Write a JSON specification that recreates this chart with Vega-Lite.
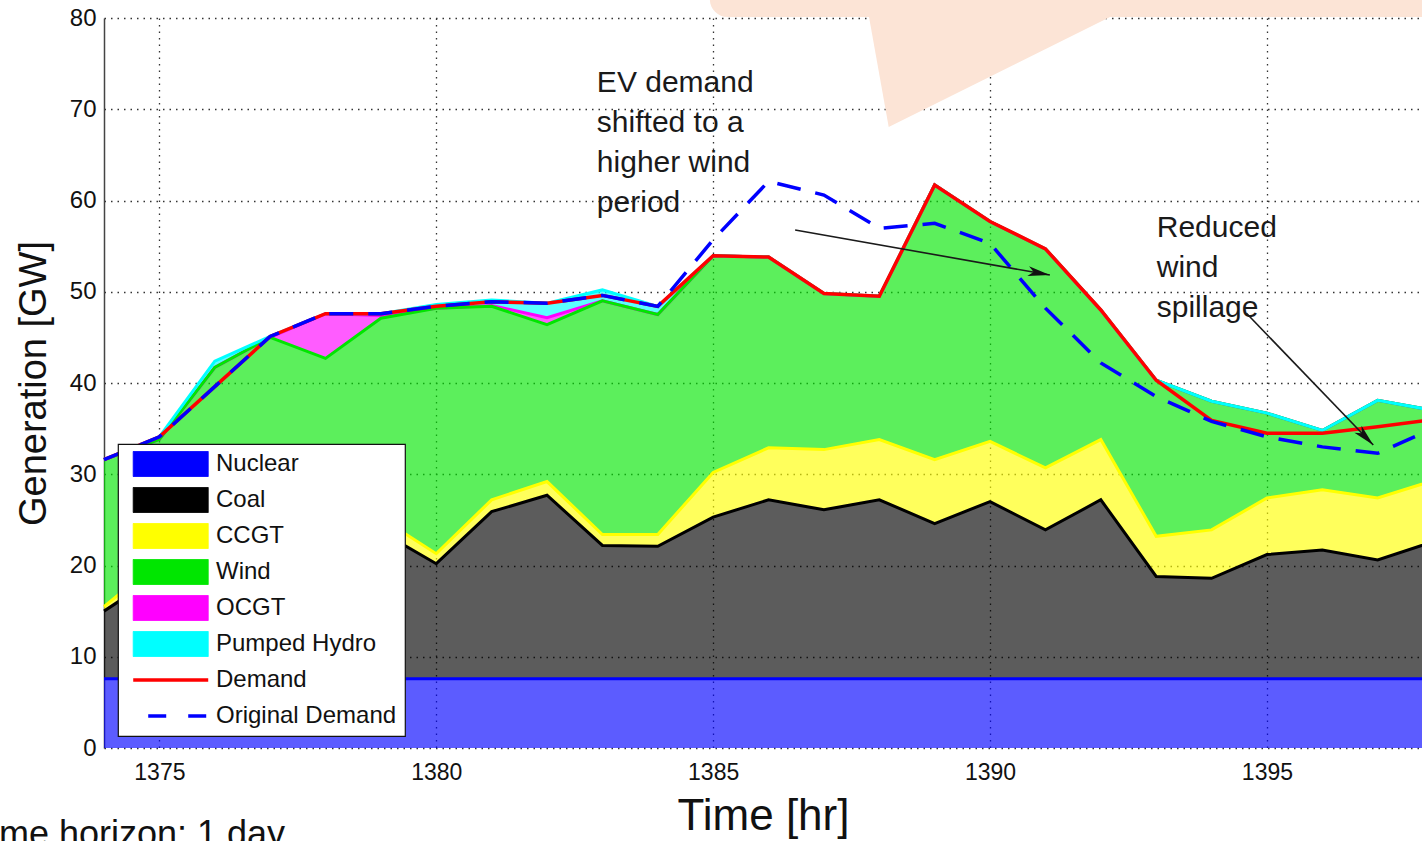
{
  "$schema": "https://vega.github.io/schema/vega-lite/v6.json",
  "width": 1318,
  "height": 730,
  "autosize": {"type": "none"},
  "padding": {"left": 104, "top": 18, "right": 0, "bottom": 93},
  "background": "white",
  "config": {
    "font": "Liberation Sans",
    "view": {"stroke": null},
    "axis": {"labelFont": "Liberation Sans", "titleFont": "Liberation Sans", "labelColor": "#111", "titleColor": "#111", "titleFontWeight": "normal"}
  },
  "datasets": {
    "gen": [
      {"h": 1374, "Nuclear": 7.6, "Coal": 7.4, "CCGT": 0.5, "Wind": 16.1, "OCGT": 0, "Pumped Hydro": 0},
      {"h": 1375, "Nuclear": 7.6, "Coal": 11.4, "CCGT": 1.5, "Wind": 13.3, "OCGT": 0, "Pumped Hydro": 0.3},
      {"h": 1376, "Nuclear": 7.6, "Coal": 13.9, "CCGT": 1.5, "Wind": 18.7, "OCGT": 0, "Pumped Hydro": 0.7},
      {"h": 1377, "Nuclear": 7.6, "Coal": 14.9, "CCGT": 1.5, "Wind": 21.0, "OCGT": 0, "Pumped Hydro": 0.1},
      {"h": 1378, "Nuclear": 7.6, "Coal": 14.4, "CCGT": 1.5, "Wind": 19.2, "OCGT": 4.9, "Pumped Hydro": 0},
      {"h": 1379, "Nuclear": 7.6, "Coal": 16.1, "CCGT": 1.5, "Wind": 21.9, "OCGT": 0.3, "Pumped Hydro": 0.2},
      {"h": 1380, "Nuclear": 7.6, "Coal": 12.6, "CCGT": 1.1, "Wind": 26.9, "OCGT": 0, "Pumped Hydro": 0.4},
      {"h": 1381, "Nuclear": 7.6, "Coal": 18.3, "CCGT": 1.3, "Wind": 21.2, "OCGT": 0.1, "Pumped Hydro": 0.6},
      {"h": 1382, "Nuclear": 7.6, "Coal": 20.1, "CCGT": 1.5, "Wind": 17.2, "OCGT": 0.75, "Pumped Hydro": 1.6},
      {"h": 1383, "Nuclear": 7.6, "Coal": 14.6, "CCGT": 1.2, "Wind": 25.6, "OCGT": 0, "Pumped Hydro": 1.2},
      {"h": 1384, "Nuclear": 7.6, "Coal": 14.5, "CCGT": 1.3, "Wind": 24.1, "OCGT": 0, "Pumped Hydro": 0.9},
      {"h": 1385, "Nuclear": 7.6, "Coal": 17.7, "CCGT": 4.9, "Wind": 23.75, "OCGT": 0, "Pumped Hydro": 0},
      {"h": 1386, "Nuclear": 7.6, "Coal": 19.6, "CCGT": 5.7, "Wind": 20.9, "OCGT": 0, "Pumped Hydro": 0},
      {"h": 1387, "Nuclear": 7.6, "Coal": 18.5, "CCGT": 6.6, "Wind": 17.1, "OCGT": 0, "Pumped Hydro": 0},
      {"h": 1388, "Nuclear": 7.6, "Coal": 19.6, "CCGT": 6.6, "Wind": 15.7, "OCGT": 0, "Pumped Hydro": 0},
      {"h": 1389, "Nuclear": 7.6, "Coal": 17.0, "CCGT": 7.0, "Wind": 30.1, "OCGT": 0, "Pumped Hydro": 0},
      {"h": 1390, "Nuclear": 7.6, "Coal": 19.4, "CCGT": 6.6, "Wind": 24.1, "OCGT": 0, "Pumped Hydro": 0},
      {"h": 1391, "Nuclear": 7.6, "Coal": 16.3, "CCGT": 6.8, "Wind": 24.0, "OCGT": 0, "Pumped Hydro": 0},
      {"h": 1392, "Nuclear": 7.6, "Coal": 19.6, "CCGT": 6.6, "Wind": 14.2, "OCGT": 0, "Pumped Hydro": 0},
      {"h": 1393, "Nuclear": 7.6, "Coal": 11.2, "CCGT": 4.4, "Wind": 17.1, "OCGT": 0, "Pumped Hydro": 0},
      {"h": 1394, "Nuclear": 7.6, "Coal": 11.0, "CCGT": 5.3, "Wind": 14.1, "OCGT": 0, "Pumped Hydro": 0},
      {"h": 1395, "Nuclear": 7.6, "Coal": 13.6, "CCGT": 6.2, "Wind": 9.3, "OCGT": 0, "Pumped Hydro": 0},
      {"h": 1396, "Nuclear": 7.6, "Coal": 14.1, "CCGT": 6.6, "Wind": 6.5, "OCGT": 0, "Pumped Hydro": 0},
      {"h": 1397, "Nuclear": 7.6, "Coal": 13.0, "CCGT": 6.8, "Wind": 10.7, "OCGT": 0, "Pumped Hydro": 0},
      {"h": 1398, "Nuclear": 7.6, "Coal": 15.0, "CCGT": 6.7, "Wind": 7.7, "OCGT": 0, "Pumped Hydro": 0}
    ],
    "dem": [
      {"h": 1374, "Demand": 31.6, "Original Demand": 31.6},
      {"h": 1375, "Demand": 34.1, "Original Demand": 34.1},
      {"h": 1376, "Demand": 39.6, "Original Demand": 39.6},
      {"h": 1377, "Demand": 45.1, "Original Demand": 45.1},
      {"h": 1378, "Demand": 47.6, "Original Demand": 47.6},
      {"h": 1379, "Demand": 47.6, "Original Demand": 47.6},
      {"h": 1380, "Demand": 48.4, "Original Demand": 48.4},
      {"h": 1381, "Demand": 48.9, "Original Demand": 48.9},
      {"h": 1382, "Demand": 48.75, "Original Demand": 48.75},
      {"h": 1383, "Demand": 49.6, "Original Demand": 49.6},
      {"h": 1384, "Demand": 48.4, "Original Demand": 48.4},
      {"h": 1385, "Demand": 53.95, "Original Demand": 55.7},
      {"h": 1386, "Demand": 53.8, "Original Demand": 62.1},
      {"h": 1387, "Demand": 49.8, "Original Demand": 60.6},
      {"h": 1388, "Demand": 49.5, "Original Demand": 56.95},
      {"h": 1389, "Demand": 61.7, "Original Demand": 57.5},
      {"h": 1390, "Demand": 57.7, "Original Demand": 55.3},
      {"h": 1391, "Demand": 54.7, "Original Demand": 48.2},
      {"h": 1392, "Demand": 48.0, "Original Demand": 42.2},
      {"h": 1393, "Demand": 40.3, "Original Demand": 38.5},
      {"h": 1394, "Demand": 35.9, "Original Demand": 35.8},
      {"h": 1395, "Demand": 34.5, "Original Demand": 34.1},
      {"h": 1396, "Demand": 34.5, "Original Demand": 33.0},
      {"h": 1397, "Demand": 35.2, "Original Demand": 32.3},
      {"h": 1398, "Demand": 36.0, "Original Demand": 35.0}
    ],
    "ranks": [
      {"src": "Nuclear", "rank": 1},
      {"src": "Coal", "rank": 2},
      {"src": "CCGT", "rank": 3},
      {"src": "Wind", "rank": 4},
      {"src": "OCGT", "rank": 5},
      {"src": "Pumped Hydro", "rank": 6}
    ]
  },
  "encoding": {
    "x": {
      "field": "h",
      "type": "quantitative",
      "title": "Time [hr]",
      "scale": {"domain": [1374, 1397.8], "nice": false, "zero": false},
      "axis": {
        "values": [1375, 1380, 1385, 1390, 1395],
        "format": "d",
        "labelFontSize": 23,
        "labelPadding": 13,
        "ticks": false,
        "domain": false,
        "grid": true,
        "gridDash": [1.5, 5],
        "gridColor": "#333",
        "gridWidth": 1.3,
        "titleFontSize": 44,
        "titlePadding": 10
      }
    }
  },
  "layer": [
    {
      "data": {"name": "gen"},
      "transform": [
        {"fold": ["Nuclear", "Coal", "CCGT", "Wind", "OCGT", "Pumped Hydro"], "as": ["src", "gw"]},
        {"lookup": "src", "from": {"data": {"name": "ranks"}, "key": "src", "fields": ["rank"]}},
        {"stack": "gw", "groupby": ["h"], "sort": [{"field": "rank", "order": "ascending"}], "as": ["y0", "y1"]}
      ],
      "mark": {"type": "area", "fillOpacity": 0.64},
      "encoding": {
        "y": {
          "field": "y1",
          "type": "quantitative",
          "title": "Generation [GW]",
          "scale": {"domain": [0, 80], "nice": false, "zero": true},
          "axis": {
            "values": [0, 10, 20, 30, 40, 50, 60, 70, 80],
            "labelFontSize": 24,
            "labelPadding": 8,
            "ticks": false,
            "domain": true,
            "domainColor": "#444",
            "domainWidth": 1.5,
            "grid": true,
            "gridDash": [1.5, 5],
            "gridColor": "#333",
            "gridWidth": 1.3,
            "titleFontSize": 38,
            "titlePadding": 16
          }
        },
        "y2": {"field": "y0"},
        "color": {
          "field": "src",
          "type": "nominal",
          "scale": {
            "domain": ["Nuclear", "Coal", "CCGT", "Wind", "OCGT", "Pumped Hydro", "Demand", "Original Demand"],
            "range": ["#0000ff", "#000000", "#ffff00", "#00e600", "#ff00ff", "#00ffff", "#ff0000", "#0000ff"]
          },
          "legend": {
            "title": null,
            "orient": "none",
            "legendX": 14,
            "legendY": 426,
            "direction": "vertical",
            "gridAlign": "all",
            "fillColor": "white",
            "strokeColor": "#111",
            "padding": 8,
            "cornerRadius": 0,
            "symbolSize": 676,
            "symbolOffset": 9,
            "symbolStrokeWidth": 1,
            "labelOffset": 57,
            "rowPadding": 6,
            "labelFontSize": 24,
            "labelFont": "Liberation Sans",
            "labelColor": "#111",
            "labelLimit": 400,
            "encode": {
              "legend": {"update": {"strokeWidth": {"value": 1.2}}},
              "symbols": {
                "update": {
                  "shape": {"signal": "(datum.value == 'Demand' || datum.value == 'Original Demand') ? 'M-1.06,0L4.71,0' : 'M-1.06,-0.96L4.71,-0.96L4.71,0.96L-1.06,0.96Z'"},
                  "fill": {"signal": "(datum.value == 'Demand' || datum.value == 'Original Demand') ? 'transparent' : scale('color', datum.value)"},
                  "stroke": {"signal": "(datum.value == 'Demand' || datum.value == 'Original Demand') ? scale('color', datum.value) : '#222'"},
                  "strokeWidth": {"signal": "(datum.value == 'Demand' || datum.value == 'Original Demand') ? 3.5 : 1"},
                  "strokeDash": {"signal": "datum.value == 'Original Demand' ? [18, 22] : [1, 0]"},
                  "strokeDashOffset": {"value": 25},
                  "opacity": {"value": 1},
                  "fillOpacity": {"value": 1},
                  "strokeOpacity": {"value": 1}
                }
              }
            }
          }
        }
      }
    },
    {
      "data": {"name": "gen"},
      "transform": [
        {"fold": ["Nuclear", "Coal", "CCGT", "OCGT", "Wind", "Pumped Hydro"], "as": ["src", "gw"]},
        {"lookup": "src", "from": {"data": {"name": "ranks"}, "key": "src", "fields": ["rank"]}},
        {"stack": "gw", "groupby": ["h"], "sort": [{"field": "rank", "order": "ascending"}], "as": ["y0", "y1"]}
      ],
      "mark": {"type": "line", "strokeWidth": 3},
      "encoding": {
        "y": {"field": "y1", "type": "quantitative", "title": "Generation [GW]"},
        "color": {"field": "src", "type": "nominal"}
      }
    },
    {
      "data": {"name": "dem"},
      "mark": {"type": "line", "strokeWidth": 3.5},
      "encoding": {
        "y": {"field": "Demand", "type": "quantitative", "title": "Generation [GW]"},
        "color": {"datum": "Demand", "type": "nominal"}
      }
    },
    {
      "data": {"name": "dem"},
      "mark": {"type": "line", "strokeWidth": 3.5, "strokeDash": [24, 15]},
      "encoding": {
        "y": {"field": "Original Demand", "type": "quantitative", "title": "Generation [GW]"},
        "color": {"datum": "Original Demand", "type": "nominal"}
      }
    },
    {
      "data": {"values": [
        {"h": 1386.48, "gw": 56.77, "h2": 1391.08, "gw2": 51.84},
        {"h": 1394.63, "gw": 47.64, "h2": 1396.92, "gw2": 33.2}
      ]},
      "mark": {"type": "rule", "color": "#1a1a1a", "strokeWidth": 1.6},
      "encoding": {
        "y": {"field": "gw", "type": "quantitative", "title": "Generation [GW]"},
        "x2": {"field": "h2"},
        "y2": {"field": "gw2"}
      }
    },
    {
      "data": {"values": [{"h": 1391.08, "gw": 51.84}]},
      "mark": {"type": "point", "shape": "M0,0L-2,-0.45L-1.5,0L-2,0.45Z", "filled": true, "color": "#111", "opacity": 1, "size": 484, "angle": 10},
      "encoding": {
        "y": {"field": "gw", "type": "quantitative", "title": "Generation [GW]"}
      }
    },
    {
      "data": {"values": [{"h": 1396.92, "gw": 33.2}]},
      "mark": {"type": "point", "shape": "M0,0L-2,-0.45L-1.5,0L-2,0.45Z", "filled": true, "color": "#111", "opacity": 1, "size": 484, "angle": 46},
      "encoding": {
        "y": {"field": "gw", "type": "quantitative", "title": "Generation [GW]"}
      }
    },
    {
      "data": {"values": [
        {"h": 1382.9, "gw": 74.5, "t": "EV demand\nshifted to a\nhigher wind\nperiod"},
        {"h": 1393.01, "gw": 58.6, "t": "Reduced\nwind\nspillage"}
      ]},
      "mark": {"type": "text", "align": "left", "baseline": "top", "lineBreak": "\n", "lineHeight": 40, "fontSize": 30, "color": "#1a1a1a", "font": "Liberation Sans"},
      "encoding": {
        "y": {"field": "gw", "type": "quantitative", "title": "Generation [GW]"},
        "text": {"field": "t"}
      }
    },
    {
      "data": {"values": [{"h": 1377.27, "gw": -10.74, "t": "Time horizon: 1 day"}]},
      "mark": {"type": "text", "align": "right", "baseline": "alphabetic", "fontSize": 36, "color": "#111", "font": "Liberation Sans", "clip": false},
      "encoding": {
        "y": {"field": "gw", "type": "quantitative", "title": "Generation [GW]"},
        "text": {"field": "t"}
      }
    },
    {
      "data": {"values": [
        {"h": 1387.8, "gw": 80.6, "gw2": 80.6},
        {"h": 1388.17, "gw": 68.05, "gw2": 80.6},
        {"h": 1392.33, "gw": 80.6, "gw2": 80.6}
      ]},
      "mark": {"type": "area", "color": "#fce4d6", "opacity": 1, "clip": false},
      "encoding": {
        "y": {"field": "gw", "type": "quantitative", "title": "Generation [GW]"},
        "y2": {"field": "gw2"}
      }
    },
    {
      "data": {"values": [{"h": 1384.94, "h2": 1400, "gw": 80.11, "gw2": 84}]},
      "mark": {"type": "rect", "color": "#fce4d6", "opacity": 1, "cornerRadius": 18, "clip": false},
      "encoding": {
        "y": {"field": "gw", "type": "quantitative", "title": "Generation [GW]"},
        "x2": {"field": "h2"},
        "y2": {"field": "gw2"}
      }
    }
  ]
}
